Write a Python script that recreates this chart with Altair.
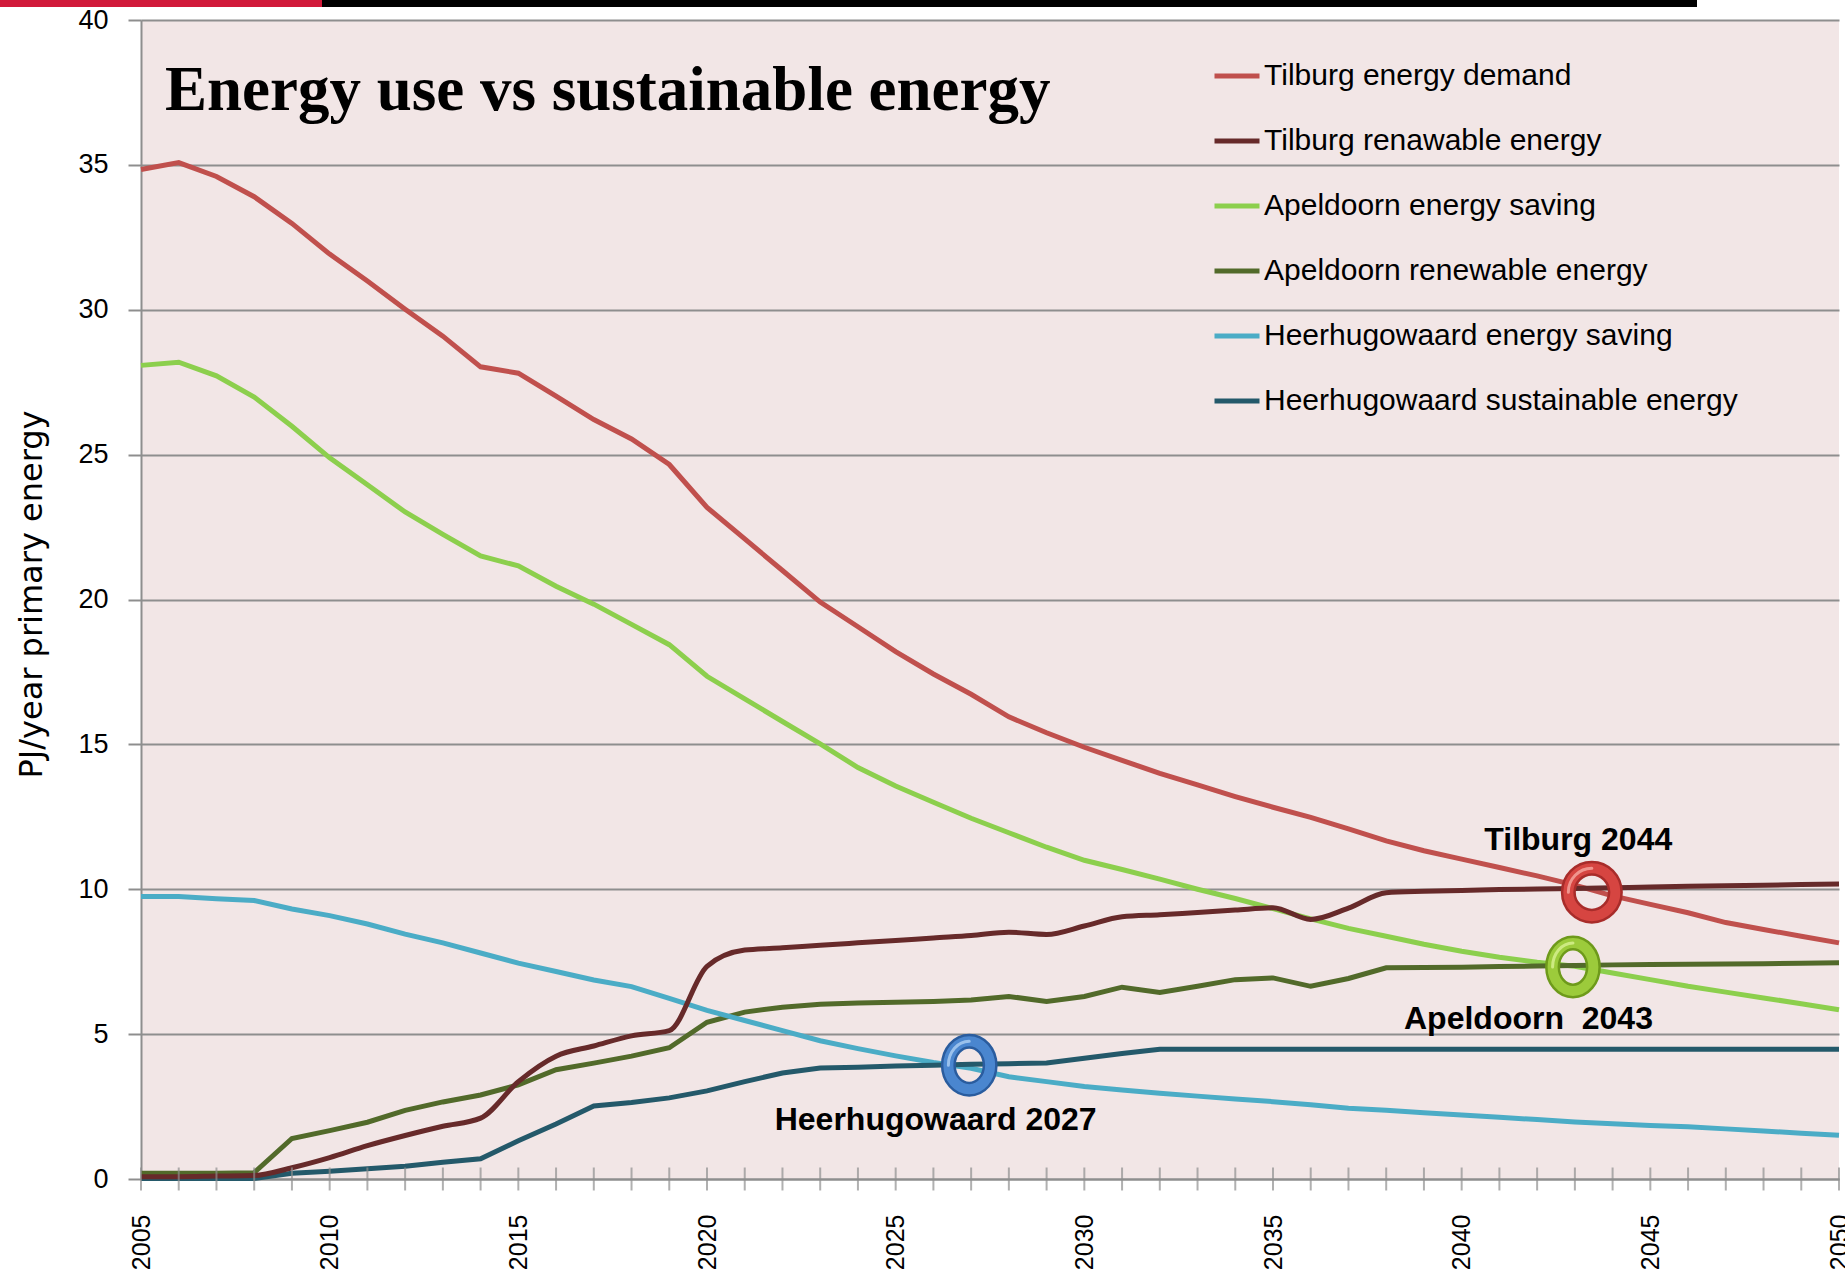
import altair as alt
import pandas as pd

# ---- data -------------------------------------------------------------
years = list(range(2005, 2051))

series_names = [
    "Tilburg energy demand",
    "Tilburg renawable energy",
    "Apeldoorn energy saving",
    "Apeldoorn renewable energy",
    "Heerhugowaard energy saving",
    "Heerhugowaard sustainable energy",
]
series_colors = ["#C0504D", "#672A2A", "#8CCF4D", "#526A2A", "#4BACC6", "#24596A"]

tilburg_demand = [
    34.84, 35.08, 34.60, 33.90, 32.98, 31.92, 30.99, 30.02, 29.09, 28.03,
    27.81, 27.02, 26.21, 25.54, 24.66, 23.18, 22.09, 21.00, 19.91, 19.06,
    18.20, 17.43, 16.73, 15.95, 15.40, 14.90, 14.45, 14.00, 13.60, 13.20,
    12.83, 12.48, 12.08, 11.67, 11.33, 11.04, 10.75, 10.46, 10.14, 9.77,
    9.48, 9.19, 8.85, 8.61, 8.38, 8.15,
]
tilburg_renewable = [
    0.08, 0.08, 0.10, 0.12, 0.39, 0.74, 1.15, 1.50, 1.82, 2.10,
    3.36, 4.24, 4.59, 4.94, 5.12, 7.34, 7.90, 7.98, 8.07, 8.15,
    8.23, 8.32, 8.40, 8.52, 8.44, 8.73, 9.05, 9.12, 9.20, 9.28,
    9.36, 8.96, 9.35, 9.88, 9.93, 9.96, 9.99, 10.01, 10.03, 10.05,
    10.08, 10.10, 10.12, 10.14, 10.16, 10.18,
]
apeldoorn_saving = [
    28.08, 28.19, 27.72, 26.99, 25.98, 24.89, 23.96, 23.02, 22.25, 21.50,
    21.16, 20.46, 19.84, 19.14, 18.44, 17.35, 16.57, 15.79, 15.02, 14.20,
    13.56, 13.00, 12.45, 11.95, 11.45, 11.00, 10.68, 10.35, 10.00, 9.68,
    9.33, 8.98, 8.65, 8.38, 8.10, 7.86, 7.65, 7.48, 7.34, 7.11,
    6.88, 6.65, 6.45, 6.25, 6.05, 5.84,
]
apeldoorn_renewable = [
    0.20, 0.20, 0.20, 0.22, 1.40, 1.67, 1.96, 2.37, 2.66, 2.90,
    3.25, 3.77, 4.00, 4.24, 4.53, 5.41, 5.76, 5.93, 6.03, 6.07,
    6.10, 6.13, 6.18, 6.30, 6.13, 6.30, 6.62, 6.44, 6.65, 6.88,
    6.94, 6.65, 6.92, 7.29, 7.30, 7.31, 7.33, 7.35, 7.37, 7.39,
    7.40, 7.41, 7.42, 7.43, 7.45, 7.46,
]
heerhugowaard_saving = [
    9.75, 9.75, 9.67, 9.61, 9.32, 9.09, 8.80, 8.45, 8.15, 7.80,
    7.45, 7.16, 6.87, 6.64, 6.23, 5.82, 5.47, 5.12, 4.77, 4.50,
    4.25, 4.02, 3.82, 3.53, 3.36, 3.19, 3.07, 2.96, 2.86, 2.76,
    2.67, 2.56, 2.44, 2.37, 2.29, 2.21, 2.13, 2.05, 1.97, 1.91,
    1.85, 1.80, 1.73, 1.66, 1.58, 1.51,
]
heerhugowaard_sustainable = [
    0.02, 0.02, 0.02, 0.02, 0.20, 0.27, 0.35, 0.44, 0.58, 0.70,
    1.32, 1.90, 2.52, 2.64, 2.80, 3.04, 3.36, 3.66, 3.83, 3.86,
    3.90, 3.93, 3.96, 3.98, 4.00, 4.17, 4.33, 4.48, 4.48, 4.48,
    4.48, 4.48, 4.48, 4.48, 4.48, 4.48, 4.48, 4.48, 4.48, 4.48,
    4.48, 4.48, 4.48, 4.48, 4.48, 4.48,
]

series_values = [
    tilburg_demand, tilburg_renewable, apeldoorn_saving,
    apeldoorn_renewable, heerhugowaard_saving, heerhugowaard_sustainable,
]
# the Tilburg renewable series is drawn as a smoothed curve, the rest straight
smoothed_series = ["Tilburg renawable energy"]

# crossover markers and their captions
ring_years = [2043.45, 2042.95, 2026.95]
ring_values = [9.9, 7.32, 3.93]
ring_main = ["#D64541", "#9CCB3B", "#4A86CF"]
ring_edge = ["#A82C2A", "#6E9A1B", "#2A5C9E"]
ring_glint = ["#F4A49C", "#D6F08E", "#A9CCF2"]
ring_widths = [0.98, 0.85, 0.87]

caption_texts = ["Tilburg 2044", "Apeldoorn\u00a0 2043", "Heerhugowaard 2027"]
caption_years = [2043.09, 2041.77, 2026.06]
caption_values = [11.35, 5.16, 1.70]

chart_title = "Energy use vs sustainable energy"
y_title = "PJ/year primary energy"
x_label_years = list(range(2005, 2051, 5))
y_label_values = list(range(0, 41, 5))

# ---- tables -----------------------------------------------------------
rows = []
for name, vals in zip(series_names, series_values):
    for yr, v in zip(years, vals):
        rows.append({"year": yr, "value": v, "series": name})
lines_df = pd.DataFrame(rows)


def ellipse(rx):
    return f"M0,-1 A{rx},1 0 1,1 0,1 A{rx},1 0 1,1 0,-1 Z"


def upper_left_arc(rx):
    return f"M{-rx},0 A{rx},1 0 0,1 0,-1"


rings_df = pd.DataFrame({
    "year": ring_years, "value": ring_values,
    "main": ring_main, "edge": ring_edge, "glint": ring_glint,
    "ring": [ellipse(w) for w in ring_widths],
    "arc": [upper_left_arc(w) for w in ring_widths],
})
captions_df = pd.DataFrame({
    "year": caption_years, "value": caption_values, "label": caption_texts,
})
ticks_df = pd.DataFrame({"year": years})

# ---- styling ----------------------------------------------------------
W, H = 1698, 1159
GRID = "#8E8E8E"
SANS = "Liberation Sans"

x_scale = alt.Scale(domain=[2005, 2050], nice=False, zero=False)
y_scale = alt.Scale(domain=[0, 40], nice=False)
color_scale = alt.Scale(domain=series_names, range=series_colors)

x_axis = alt.Axis(
    values=x_label_years, format="d", labelAngle=270, labelFont=SANS,
    labelFontSize=25, labelColor="black", labelPadding=35, ticks=False,
    grid=False, domainColor=GRID, domainWidth=2, title=None,
    labelFlush=False, labelOverlap=False,
)
y_axis = alt.Axis(
    values=y_label_values, grid=True, gridColor=GRID, gridWidth=2,
    tickSize=13, tickColor=GRID, tickWidth=2, labelFont=SANS,
    labelFontSize=27, labelColor="black", labelPadding=20,
    domainColor=GRID, domainWidth=2, title=y_title, titleFont="DejaVu Sans",
    titleFontSize=32, titleFontWeight="normal", titleColor="black",
    titleAngle=270, titleAlign="center", titleBaseline="alphabetic",
    titleX=-100, titleY=574,
)

legend = alt.Legend(
    orient="none", legendX=1071, legendY=31, direction="vertical",
    title=None, symbolType="stroke", symbolSize=2025, symbolStrokeWidth=5,
    labelFont=SANS, labelFontSize=30, labelColor="black", labelOffset=2,
    rowPadding=25, padding=0, labelLimit=0,
)

# ---- layers -----------------------------------------------------------
base_lines = alt.Chart(lines_df).encode(
    x=alt.X("year:Q", scale=x_scale, axis=x_axis),
    y=alt.Y("value:Q", scale=y_scale, axis=y_axis),
    color=alt.Color("series:N", scale=color_scale, legend=legend, sort=series_names),
    order=alt.Order("year:Q"),
)
straight_lines = base_lines.mark_line(strokeWidth=5, interpolate="linear").transform_filter(
    alt.FieldOneOfPredicate(field="series", oneOf=[s for s in series_names if s not in smoothed_series])
)
smooth_lines = base_lines.mark_line(strokeWidth=5, interpolate="monotone").transform_filter(
    alt.FieldOneOfPredicate(field="series", oneOf=smoothed_series)
)

year_ticks = alt.Chart(ticks_df).mark_tick(
    orient="vertical", size=23, thickness=2, color=GRID
).encode(
    x=alt.X("year:Q", scale=x_scale),
    y=alt.datum(0, scale=y_scale),
)

ring_pos = dict(
    x=alt.X("year:Q", scale=x_scale),
    y=alt.Y("value:Q", scale=y_scale),
)
ring_edge_layer = alt.Chart(rings_df).mark_point(
    size=2304, filled=False, strokeWidth=15, opacity=1
).encode(
    shape=alt.Shape("ring:N", scale=None),
    stroke=alt.Stroke("edge:N", scale=None),
    **ring_pos,
)
ring_main_layer = alt.Chart(rings_df).mark_point(
    size=2304, filled=False, strokeWidth=10, opacity=1
).encode(
    shape=alt.Shape("ring:N", scale=None),
    stroke=alt.Stroke("main:N", scale=None),
    **ring_pos,
)
ring_glint_layer = alt.Chart(rings_df).mark_point(
    size=2304, filled=False, strokeWidth=3, opacity=0.85, strokeCap="round",
).encode(
    shape=alt.Shape("arc:N", scale=None),
    stroke=alt.Stroke("glint:N", scale=None),
    **ring_pos,
)

captions = alt.Chart(captions_df).mark_text(
    font=SANS, fontSize=32, fontWeight="bold", color="black",
    align="center", baseline="alphabetic",
).encode(
    x=alt.X("year:Q", scale=x_scale), y=alt.Y("value:Q", scale=y_scale),
    text="label:N",
)

title_df = pd.DataFrame({"label": [chart_title]})
title = alt.Chart(title_df).mark_text(
    font="Liberation Serif", fontSize=63, fontWeight="bold", color="black",
    align="left", baseline="alphabetic",
).encode(x=alt.value(24), y=alt.value(90), text="label:N")

# decorative strip along the top edge of the page
strip_df = pd.DataFrame({"part": ["red", "black"]})
strip_red = alt.Chart(strip_df.iloc[[0]]).mark_rect(color="#D11A3A").encode(
    x=alt.value(-141), x2=alt.value(181), y=alt.value(-20), y2=alt.value(-13)
)
strip_black = alt.Chart(strip_df.iloc[[1]]).mark_rect(color="#000000").encode(
    x=alt.value(181), x2=alt.value(1556), y=alt.value(-20), y2=alt.value(-13)
)

chart = alt.layer(
    straight_lines, smooth_lines, year_ticks,
    ring_edge_layer, ring_main_layer, ring_glint_layer,
    captions, title, strip_red, strip_black,
).properties(
    width=W, height=H,
    autosize=alt.AutoSizeParams(type="none"),
    padding={"left": 141, "top": 20, "right": 6, "bottom": 94},
    background="white",
).configure_view(
    stroke=None, fill="#F2E6E6",
)

chart.save("out.html", embed_options={"renderer": "svg", "actions": False})
